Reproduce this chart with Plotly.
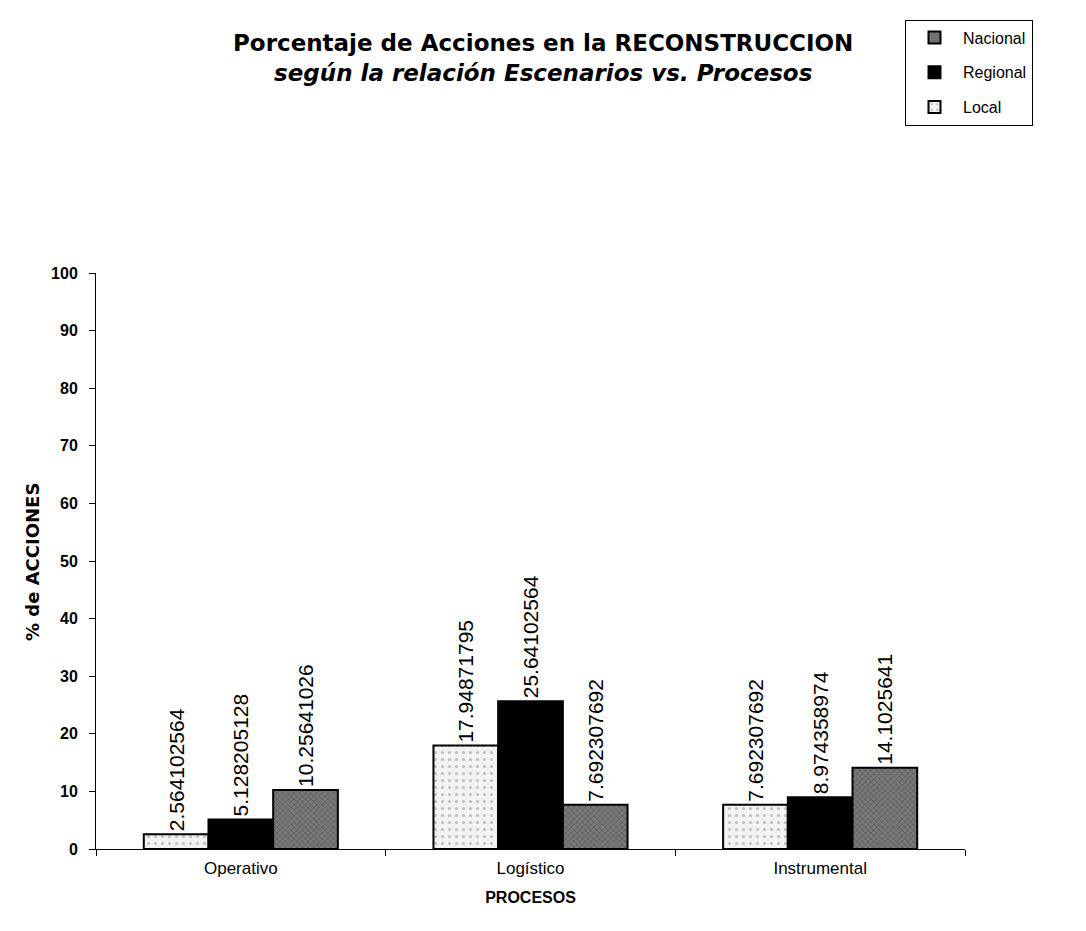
import plotly.graph_objects as go

cat_labels = ["Operativo", "Logístico", "Instrumental"]
local_vals = [2.564102564, 17.94871795, 7.692307692]
regional_vals = [5.128205128, 25.64102564, 8.974358974]
nacional_vals = [10.25641026, 7.692307692, 14.1025641]
series_names = ["Local", "Regional", "Nacional"]
legend_ranks = [3, 2, 1]

FONT = "Liberation Sans, Arial, sans-serif"
TFONT = "DejaVu Sans, Liberation Sans, sans-serif"

styles = {
    "Local": dict(color="#f2f2f2", pattern=dict(shape=".", fgcolor="#888888", size=7, solidity=0.15)),
    "Regional": dict(color="#000000"),
    "Nacional": dict(color="#7a7a7a", pattern=dict(shape="x", fgcolor="#2a2a2a", size=4, solidity=0.3)),
}

L, T, PW, PH = 88, 257, 869, 584
W, H = 1086, 931

fig = go.Figure()
for name, vals, rk in zip(series_names, [local_vals, regional_vals, nacional_vals], legend_ranks):
    st = styles[name]
    fig.add_trace(go.Bar(
        name=name,
        legendgroup=name,
        legendrank=rk,
        x=cat_labels,
        y=vals,
        text=[f"{v:.10g}" for v in vals],
        textposition="outside",
        textangle=-90,
        constraintext="none",
        cliponaxis=False,
        textfont=dict(family=FONT, size=21, color="black"),
        marker=dict(color=st["color"], pattern=st.get("pattern"),
                    line=dict(color="black", width=2)),
    ))

def py(yfig):
    return (T + PH - yfig) / PH

def px(xfig):
    return (xfig - L) / PW

fig.add_annotation(text="<b>Porcentaje de Acciones en la RECONSTRUCCION</b>",
                   x=px(535), y=py(24), xref="paper", yref="paper",
                   xanchor="center", yanchor="middle", showarrow=False,
                   font=dict(family=TFONT, size=23, color="black"))
fig.add_annotation(text="<b><i>según la relación Escenarios vs. Procesos</i></b>",
                   x=px(535), y=py(54), xref="paper", yref="paper",
                   xanchor="center", yanchor="middle", showarrow=False,
                   font=dict(family=TFONT, size=23, color="black"))
fig.add_annotation(text="<b>% de ACCIONES</b>", textangle=-90,
                   x=px(25), y=py(550), xref="paper", yref="paper",
                   xanchor="center", yanchor="middle", showarrow=False,
                   font=dict(family=TFONT, size=18, color="black"))

fig.update_layout(
    width=W, height=H,
    paper_bgcolor="white", plot_bgcolor="white",
    margin=dict(l=L, r=W - L - PW, t=T, b=H - T - PH),
    barmode="group", bargap=0.33, bargroupgap=0,
    font=dict(family=FONT, color="black"),
    legend=dict(
        x=px(897), y=py(0), xanchor="left", yanchor="top",
        xref="paper", yref="paper",
        traceorder="grouped", tracegroupgap=11,
        bordercolor="black", borderwidth=1, bgcolor="white",
        font=dict(family=FONT, size=16, color="black"),
        itemwidth=47,
    ),
    xaxis=dict(
        showline=True, linecolor="black", linewidth=1,
        ticks="outside", tickson="boundaries", ticklen=6, tickcolor="black",
        ticklabelstandoff=4,
        tickfont=dict(family=FONT, size=17, color="black"),
        title=dict(text="<b>PROCESOS</b>", font=dict(family=FONT, size=16, color="black"), standoff=14),
        showgrid=False,
    ),
    yaxis=dict(
        range=[0, 100], dtick=10,
        showline=True, linecolor="black", linewidth=1,
        ticks="outside", ticklen=6, tickcolor="black",
        ticklabelstandoff=8,
        tickfont=dict(family=FONT, size=16, color="black", weight="bold"),
        showgrid=False, zeroline=False,
    ),
)

fig.write_html("out.html")
